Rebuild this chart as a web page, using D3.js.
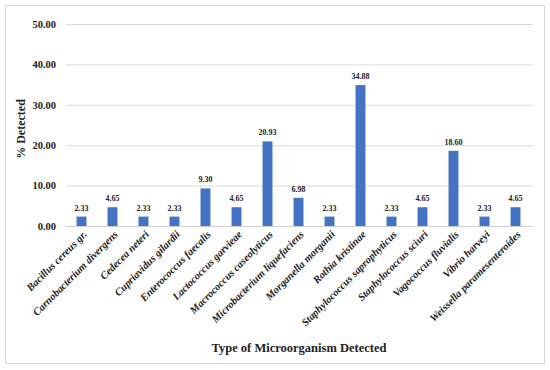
<!DOCTYPE html>
<html><head><meta charset="utf-8">
<script src="https://cdn.jsdelivr.net/npm/d3@7"></script>
<style>body{margin:0;background:#fff}svg{display:block}</style>
</head><body>
<svg id="c" width="550" height="370"></svg>
<script>
const categories = ["Bacillus cereus gr.","Carnobacterium divergens","Cedecea neteri","Cupriavidus gilardii","Enterococcus faecalis","Lactococcus garvieae","Macrococcus caseolyticus","Microbacterium liquefaciens","Morganella morganii","Rothia kristinae","Staphylococcus saprophyticus","Staphylococcus sciuri","Vagococcus fluvialis","Vibrio harveyi","Weissella paramesenteroides"];
const values = [2.33,4.65,2.33,2.33,9.30,4.65,20.93,6.98,2.33,34.88,2.33,4.65,18.60,2.33,4.65];
const yTicks = [0,10,20,30,40,50];

const font = "'Liberation Serif','DejaVu Serif',serif";
const svg = d3.select("#c");
svg.append("rect").attr("x",5.5).attr("y",5.5).attr("width",539).attr("height",358)
  .attr("fill","#fff").attr("stroke","#d9d9d9");

const x = d3.scaleBand().domain(categories).range([66,531]).paddingInner(0.68).paddingOuter(0.34);
const y = d3.scaleLinear().domain([0,50]).range([226,24]);

svg.append("g").selectAll("line").data(yTicks).join("line")
  .attr("x1",66).attr("x2",533).attr("y1",d=>y(d)+0.5).attr("y2",d=>y(d)+0.5)
  .attr("stroke",d=>d===0?"#d0d0d0":"#d9d9d9").attr("stroke-width",1);

const yAxis = svg.append("g").attr("transform","translate(66,0)")
  .call(d3.axisLeft(y).tickValues(yTicks).tickFormat(d3.format(".2f")).tickSize(0).tickPadding(10));
yAxis.select(".domain").remove();
yAxis.selectAll("text").attr("font-family",font).attr("font-weight","bold").attr("font-size",10.5).attr("fill","#222");

svg.append("g").selectAll("rect").data(values).join("rect")
  .attr("x",(d,i)=>x(categories[i])).attr("width",x.bandwidth())
  .attr("y",d=>y(d)).attr("height",d=>y(0)-y(d)).attr("fill","#4472c4");

svg.append("g").selectAll("text").data(values).join("text")
  .attr("x",(d,i)=>x(categories[i])+x.bandwidth()/2).attr("y",d=>y(d)-6)
  .attr("text-anchor","middle").attr("font-family",font).attr("font-weight","bold")
  .attr("font-size",8).attr("fill","#222").text(d=>d3.format(".2f")(d));

const xAxis = svg.append("g").attr("transform","translate(0,226)")
  .call(d3.axisBottom(x).tickSize(0).tickPadding(0));
xAxis.select(".domain").remove();
xAxis.selectAll("text").attr("font-family",font).attr("font-weight","bold").attr("font-style","italic")
  .attr("font-size",10.5).attr("fill","#222").attr("text-anchor","end").attr("dy",null).attr("y",0)
  .attr("transform","translate(6,9) rotate(-45)");

svg.append("text").attr("x",299).attr("y",352).attr("text-anchor","middle")
  .attr("font-family",font).attr("font-weight","bold").attr("font-size",12.5).attr("fill","#222")
  .text("Type of Microorganism Detected");
svg.append("text").attr("transform","translate(25,129) rotate(-90)").attr("text-anchor","middle")
  .attr("font-family",font).attr("font-weight","bold").attr("font-size",12).attr("fill","#222")
  .text("% Detected");
</script>
</body></html>
